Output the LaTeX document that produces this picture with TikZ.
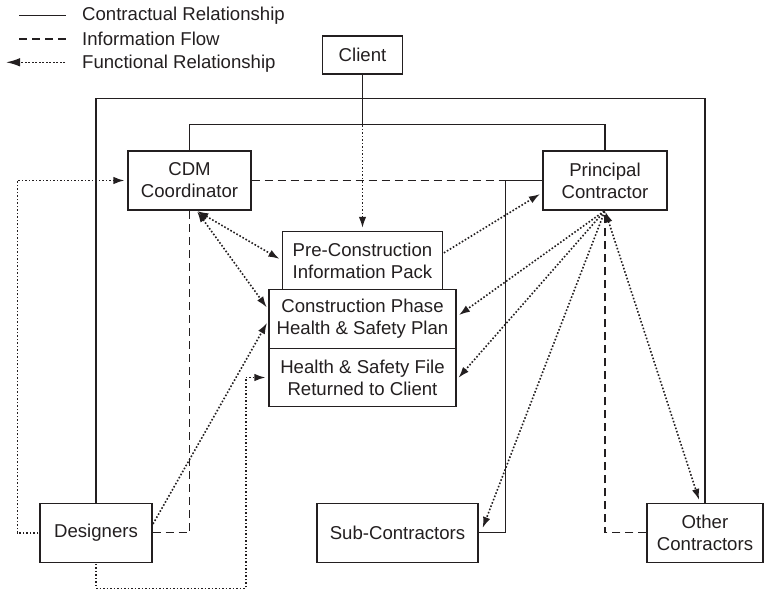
\documentclass[tikz,border=0pt]{standalone}
\usepackage{fontspec}
\setmainfont{Liberation Sans}
\usetikzlibrary{arrows.meta}
\definecolor{ink}{RGB}{35,31,32}
\begin{document}
\begin{tikzpicture}[x=1pt,y=-1pt,
  font=\fontsize{18.6}{22}\selectfont, color=ink,
  box/.style={draw=ink, line width=1.1pt, inner sep=0pt, align=center,
    minimum height=59pt, fill=white},
  contract/.style={draw=ink, line width=1.1pt},
  info/.style={draw=ink, line width=1.1pt, dash pattern=on 8pt off 5pt},
  func/.style={draw=ink, line width=1.6pt, dash pattern=on 1.6pt off 1.9pt,
    shorten >=3pt, shorten <=1pt,
    >={Latex[length=11pt,width=7.5pt]}}]

\useasboundingbox (0,0) rectangle (764,590);

% legend
\coordinate (l1a) at (19,15.7);  \coordinate (l1b) at (66,15.7);
\coordinate (l2a) at (19,39);    \coordinate (l2b) at (66,39);
\coordinate (l3a) at (6,62.3);   \coordinate (l3b) at (66,62.3);
\draw[contract] (l1a) -- (l1b);
\draw[info] (l2a) -- (l2b);
\draw[func, shorten >=0pt, -{Latex[length=14pt,width=8.5pt]}] (l3b) -- (l3a);
\node[anchor=base west, inner sep=0pt] (lt1) at (82,20.7) {Contractual Relationship};
\node[anchor=base west, inner sep=0pt] (lt2) at (82,45) {Information Flow};
\node[anchor=base west, inner sep=0pt] (lt3) at (82,68.3) {Functional Relationship};

% helper rails
\coordinate (outerY) at (0,98.3);
\coordinate (innerY) at (0,124.3);
\coordinate (jx) at (505.3,0);
\coordinate (lx) at (17.3,0);
\coordinate (dl) at (245.7,588.3);

% parties and documents
\node[box, minimum width=80pt, minimum height=38pt] (client) at (362.5,55) {Client};
\node[box, minimum width=123pt] (cdm) at (189.5,180.5) {CDM\\Coordinator};
\node[box, minimum width=124pt] (pc) at (605,180.5) {Principal\\Contractor};
\node[box, minimum width=160pt, minimum height=58pt] (precon) at (362.5,260.4) {Pre-Construction\\Information Pack};
\node[box, minimum width=187pt] (cpp) at (362.5,318.8) {Construction Phase\\Health \& Safety Plan};
\node[box, minimum width=187pt, minimum height=58.4pt] (hsf) at (362.5,377.5) {Health \& Safety File\\Returned to Client};
\node[box, minimum width=112pt] (des) at (96,532.8) {Designers};
\node[box, minimum width=161pt] (sub) at (397.5,532.8) {Sub-Contractors};
\node[box, minimum width=116pt] (other) at (705,532.8) {Other\\Contractors};

% contractual relationships
\draw[contract] (client.south) -- (client.south |- innerY) coordinate (cj);
\draw[contract] (cdm.north) |- (innerY -| pc.north) -- (pc.north);
\draw[contract] (des.north) |- (outerY -| other.north) -- (other.north);
\draw[contract] (pc.west) -| (jx |- sub.east) -- (sub.east);

% information flow
\draw[info] (cdm.east) -- (pc.west);
\draw[info] (des.east) -| (cdm.south);
\draw[info] (other.west) -| (pc.south);

% functional relationships
\draw[func,->] (cj) -- (precon.north);
\draw[func,->] (des.west) -| (lx |- cdm.west) -- (cdm.west);
\draw[func,->] (des.south) |- (dl) |- (hsf.west);
\draw[func,->] ([yshift=8pt]des.east) -- ([yshift=-1.5pt]cpp.west);
\draw[func,<->] ([xshift=7pt]cdm.south) -- (precon.west);
\draw[func,<->] ([xshift=7pt]cdm.south) -- ([yshift=9pt]cpp.west);
\draw[func,->] ([yshift=7pt]precon.east) -- ([yshift=-12pt]pc.west);
\draw[func,->] (pc.south) -- ([yshift=2pt]cpp.east);
\draw[func,->] (pc.south) -- ([yshift=-2.5pt]hsf.east);
\draw[func,->] (pc.south) -- ([xshift=3pt,yshift=2pt]sub.east);
\draw[func,<->] (pc.south) -- ([xshift=-5pt]other.north);
\end{tikzpicture}
\end{document}
